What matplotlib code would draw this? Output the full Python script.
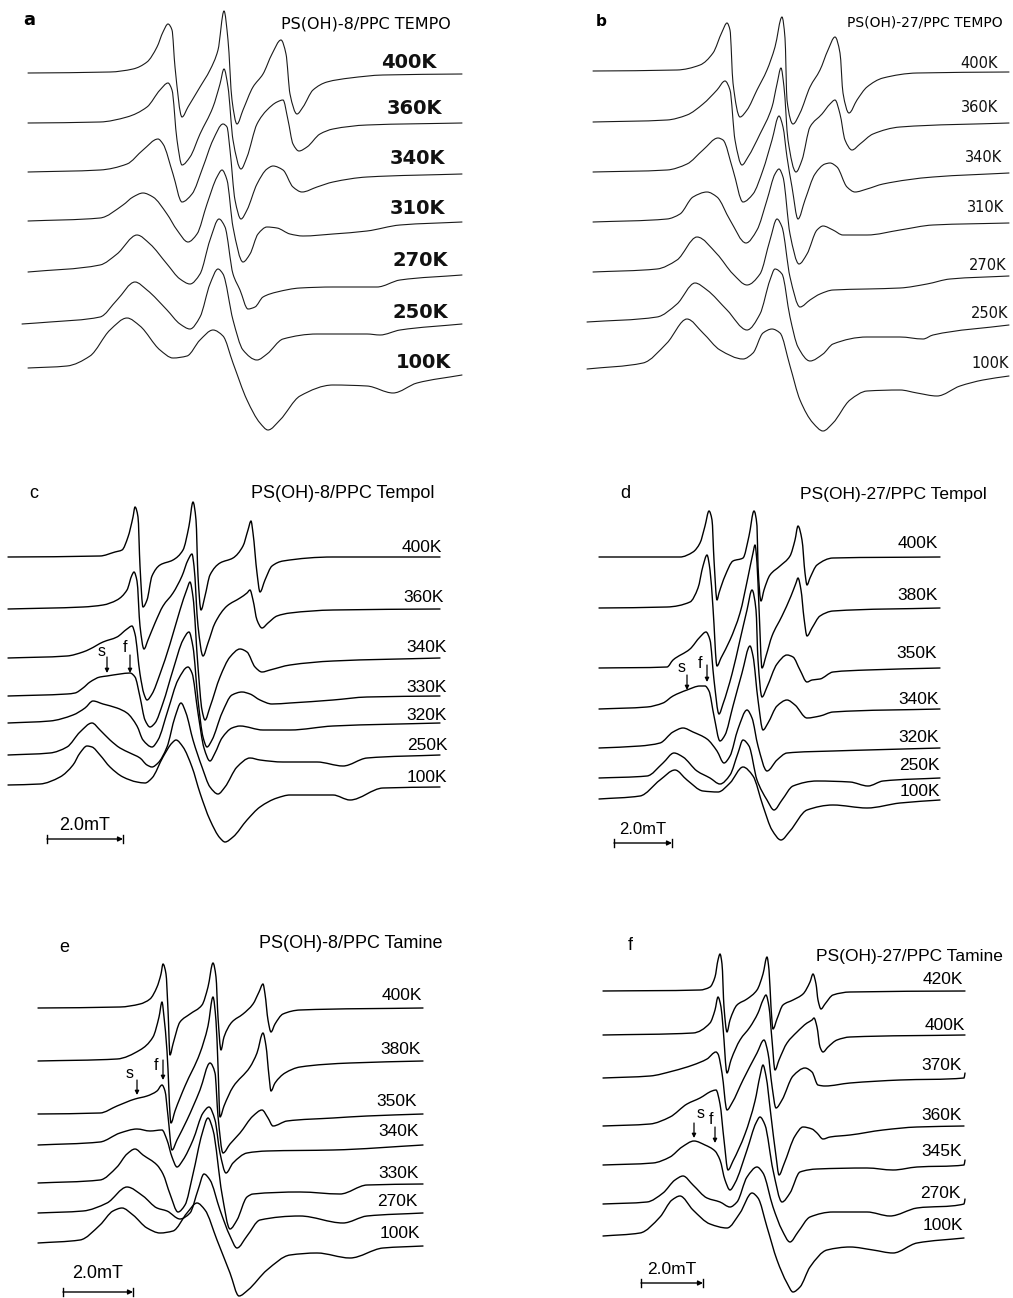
import matplotlib
matplotlib.use('Agg')
import matplotlib.pyplot as plt
from matplotlib.path import Path
from matplotlib.patches import PathPatch

# ESR spectra.
# Each trace: list of (field, signal) in arbitrary units, signal relative to trace baseline.

# ---- panel a : PS(OH)-8/PPC TEMPO ----
a_temps = ['400K', '360K', '340K', '310K', '270K', '250K', '100K']
a400 = [(28,0),(110,1),(133,4),(147,11),(157,26),(163,41),(168,49),(172,43),(175,6),(182,-44),(188,-34),(200,-14),(210,3),(218,23),(224,62),(228,33),(232,-27),(237,-51),(243,-37),(253,-14),(263,-1),(272,19),(281,33),(286,19),(290,-21),(297,-41),(303,-34),(313,-17),(327,-9),(350,-5),(383,-2),(462,-1)]
a360 = [(28,0),(100,1),(127,6),(147,16),(160,33),(168,40),(172,33),(177,-17),(182,-42),(190,-34),(200,-11),(213,16),(220,39),(224,54),(228,36),(233,-17),(241,-46),(247,-34),(257,-1),(267,13),(277,21),(283,23),(288,3),(293,-21),(299,-28),(307,-24),(320,-11),(333,-6),(367,-2),(462,0)]
a340 = [(28,0),(100,2),(127,8),(143,22),(158,33),(163,28),(173,-2),(182,-30),(192,-22),(203,5),(213,32),(223,48),(227,45),(230,22),(235,-28),(241,-47),(247,-38),(257,-12),(267,3),(273,6),(283,2),(293,-15),(302,-20),(317,-15),(333,-10),(367,-5),(462,-2)]
a310 = [(28,0),(100,3),(123,16),(133,24),(143,28),(153,24),(167,7),(177,-9),(188,-21),(197,-13),(207,17),(217,44),(222,51),(227,41),(233,-6),(243,-41),(250,-33),(258,-13),(267,-6),(277,-7),(290,-13),(303,-15),(333,-13),(367,-10),(400,-4),(462,-1)]
a270 = [(28,0),(100,7),(117,18),(137,37),(150,28),(167,8),(180,-7),(190,-12),(200,-2),(210,32),(219,53),(225,45),(233,-2),(240,-18),(248,-37),(255,-35),(263,-25),(277,-20),(300,-16),(333,-15),(377,-15),(400,-8),(462,-3)]
a250 = [(22,-2),(50,0),(100,5),(117,22),(135,40),(147,32),(167,12),(180,-2),(190,-7),(200,5),(210,38),(218,53),(223,48),(233,2),(243,-28),(257,-38),(267,-32),(283,-17),(317,-12),(367,-12),(380,-13),(400,-8),(462,-2)]
a100 = [(28,0),(67,2),(90,12),(110,38),(127,50),(140,42),(160,18),(173,10),(187,12),(200,28),(213,38),(223,32),(233,5),(247,-32),(260,-55),(268,-62),(280,-52),(300,-28),(333,-17),(367,-18),(393,-25),(417,-15),(462,-7)]

# ---- panel b : PS(OH)-27/PPC TEMPO ----
b_temps = ['400K', '360K', '340K', '310K', '270K', '250K', '100K']
b400 = [(593,0),(677,1),(700,6),(713,18),(722,39),(727,48),(730,41),(733,-12),(740,-46),(747,-39),(757,-19),(767,1),(775,24),(782,54),(785,33),(787,-29),(793,-53),(800,-42),(810,-16),(820,1),(828,21),(835,34),(840,18),(843,-22),(849,-42),(857,-29),(867,-16),(883,-7),(917,-2),(1009,-1)]
b360 = [(593,0),(667,2),(687,7),(703,18),(717,32),(725,41),(730,32),(735,-18),(742,-43),(748,-35),(760,-12),(772,15),(777,38),(781,54),(784,35),(788,-18),(796,-50),(802,-38),(810,-5),(822,8),(830,18),(835,22),(840,8),(845,-18),(852,-28),(860,-22),(873,-12),(900,-5),(1009,-1)]
b340 = [(593,0),(667,2),(687,8),(703,22),(718,34),(723,32),(733,2),(743,-30),(753,-22),(763,2),(772,32),(779,56),(783,45),(787,15),(792,-15),(798,-47),(805,-28),(815,-2),(825,8),(830,9),(837,5),(847,-15),(855,-20),(867,-17),(883,-12),(933,-5),(1009,-1)]
b310 = [(593,0),(667,3),(680,8),(693,25),(707,30),(717,25),(730,2),(746,-21),(757,-8),(767,22),(775,48),(779,53),(783,45),(790,-12),(799,-42),(807,-32),(817,-8),(823,-4),(833,-8),(843,-13),(867,-13),(900,-8),(933,-3),(1009,-1)]
b270 = [(593,0),(657,3),(677,12),(697,35),(717,18),(733,-2),(747,-13),(760,-2),(770,32),(777,53),(782,45),(790,-5),(800,-35),(810,-28),(820,-22),(833,-18),(867,-17),(900,-16),(927,-12),(950,-7),(1009,-4)]
b250 = [(587,0),(657,5),(677,18),(695,39),(707,32),(727,12),(747,-8),(760,8),(770,42),(775,53),(782,48),(790,5),(798,-25),(810,-39),(823,-32),(833,-22),(867,-15),(900,-15),(923,-17),(933,-13),(1009,-3)]
b100 = [(587,0),(643,6),(667,26),(687,50),(703,36),(720,19),(743,10),(753,16),(763,36),(772,40),(780,36),(790,3),(800,-31),(813,-54),(823,-62),(833,-54),(850,-31),(867,-22),(900,-21),(917,-24),(937,-27),(960,-17),(983,-11),(1009,-7)]

# ---- panel c : PS(OH)-8/PPC Tempol ----
c_temps = ['400K', '360K', '340K', '330K', '320K', '250K', '100K']
c400 = [(8,0),(100,1),(115,5),(122,7),(128,20),(133,40),(135,50),(138,40),(140,-9),(143,-50),(147,-43),(152,-19),(160,-8),(173,-3),(183,7),(189,31),(193,55),(196,37),(198,-19),(201,-53),(205,-39),(210,-18),(220,-6),(233,-1),(243,11),(248,27),(251,36),(253,24),(257,-16),(260,-35),(265,-23),(272,-9),(283,-4),(333,0),(440,0)]
c360 = [(8,0),(83,2),(103,4),(117,9),(127,19),(132,34),(134,37),(137,28),(140,-17),(144,-40),(148,-31),(155,-14),(163,3),(173,16),(182,33),(188,49),(192,55),(194,43),(198,-17),(203,-47),(208,-34),(215,-14),(227,3),(240,11),(247,16),(250,19),(253,9),(257,-11),(262,-19),(268,-14),(277,-7),(290,-4),(333,-1),(440,0)]
c340 = [(8,0),(67,2),(83,6),(90,9),(103,16),(117,21),(127,29),(132,32),(135,24),(140,-16),(144,-36),(147,-42),(152,-36),(160,-16),(170,14),(180,48),(187,69),(190,76),(193,61),(198,-9),(202,-52),(205,-62),(210,-49),(220,-19),(230,1),(240,9),(247,6),(255,-9),(262,-14),(270,-12),(290,-7),(333,-3),(440,0)]
c330 = [(8,0),(67,2),(75,3),(83,8),(90,14),(100,19),(107,20),(120,22),(130,23),(135,19),(140,-1),(145,-24),(150,-31),(155,-27),(163,-7),(173,26),(183,56),(189,64),(193,49),(198,-4),(203,-41),(207,-51),(212,-44),(222,-17),(232,1),(242,4),(250,2),(260,-4),(272,-8),(290,-7),(333,-4),(367,-1),(440,0)]
c320 = [(8,0),(50,2),(73,8),(85,15),(93,22),(103,19),(117,15),(127,10),(137,-3),(143,-17),(152,-24),(158,-17),(168,13),(178,43),(188,56),(192,50),(198,10),(204,-25),(210,-38),(215,-30),(222,-15),(232,-5),(240,-3),(263,-7),(290,-7),(333,-3),(440,0)]
c250 = [(8,0),(50,2),(67,8),(80,23),(92,32),(100,25),(110,15),(120,7),(130,2),(140,-3),(147,-10),(152,-12),(158,-8),(167,8),(175,38),(181,52),(186,42),(193,15),(202,-12),(210,-32),(218,-39),(225,-32),(237,-12),(250,-3),(260,-5),(283,-7),(317,-7),(343,-11),(367,-3),(440,0)]
c100 = [(8,0),(40,1),(60,8),(73,20),(80,32),(87,39),(92,38),(100,30),(110,18),(123,8),(137,3),(145,2),(152,7),(163,28),(172,42),(176,45),(183,38),(192,18),(200,-8),(210,-35),(220,-53),(225,-57),(233,-52),(247,-35),(260,-22),(277,-13),(290,-10),(333,-10),(350,-15),(383,-3),(440,-2)]

# ---- panel d : PS(OH)-27/PPC Tempol ----
d_temps = ['400K', '380K', '350K', '340K', '320K', '250K', '100K']
d400 = [(599,0),(680,0),(693,5),(700,14),(705,31),(709,46),(712,37),(714,-3),(717,-43),(719,-36),(725,-19),(733,-4),(743,-1),(749,21),(754,46),(757,31),(758,-9),(761,-44),(764,-33),(770,-18),(780,-9),(790,1),(795,17),(798,31),(802,17),(805,-16),(807,-28),(810,-21),(817,-8),(833,-1),(940,0)]
d380 = [(599,0),(667,1),(690,6),(698,20),(703,42),(707,53),(710,38),(713,0),(717,-58),(721,-50),(730,-32),(740,-5),(748,31),(753,55),(755,63),(757,45),(759,0),(762,-60),(766,-48),(772,-28),(782,-8),(791,12),(796,25),(798,30),(801,18),(804,-10),(807,-28),(812,-20),(820,-8),(833,-3),(940,0)]
d350 = [(599,0),(667,1),(673,8),(690,19),(700,31),(706,36),(710,28),(714,-12),(719,-46),(723,-36),(732,-6),(740,28),(747,58),(752,78),(756,58),(758,8),(762,-29),(767,-19),(777,4),(787,13),(793,11),(800,-2),(807,-14),(812,-12),(820,-11),(833,-4),(867,-2),(940,0)]
d340 = [(599,0),(647,2),(663,6),(673,13),(687,19),(700,23),(705,23),(709,18),(714,-7),(720,-32),(725,-26),(733,3),(742,36),(750,63),(753,53),(758,9),(763,-21),(768,-14),(777,3),(787,9),(795,4),(807,-9),(820,-7),(833,-3),(940,0)]
d320 = [(599,0),(640,2),(660,5),(673,16),(683,20),(693,16),(707,9),(717,-3),(724,-15),(730,-8),(738,19),(747,38),(752,30),(758,2),(767,-23),(777,-12),(787,-5),(833,-3),(867,-2),(940,0)]
d250 = [(599,0),(647,2),(663,15),(674,25),(683,21),(697,7),(710,0),(720,-6),(730,3),(738,25),(743,38),(749,32),(757,-2),(767,-22),(774,-32),(782,-22),(793,-8),(817,-3),(850,-4),(868,-8),(883,-3),(940,0)]
d100 = [(599,0),(640,3),(660,19),(675,29),(687,19),(703,8),(718,7),(730,16),(743,32),(753,23),(763,-7),(772,-31),(781,-41),(790,-32),(807,-11),(833,-6),(867,-9),(900,-4),(940,-1)]

# ---- panel e : PS(OH)-8/PPC Tamine ----
e_temps = ['400K', '380K', '350K', '340K', '330K', '270K', '100K']
e400 = [(38,0),(120,1),(140,4),(150,9),(157,21),(161,34),(163,44),(166,34),(168,-2),(170,-47),(173,-36),(180,-14),(190,-6),(202,3),(208,21),(213,45),(216,31),(218,-9),(221,-42),(224,-29),(232,-14),(243,-6),(253,4),(259,16),(263,24),(265,14),(268,-12),(271,-24),(275,-16),(283,-6),(300,-2),(423,0)]
e380 = [(38,0),(117,2),(140,11),(153,24),(159,44),(162,59),(164,44),(167,10),(171,-62),(175,-50),(185,-25),(200,8),(208,35),(213,64),(216,40),(218,-5),(220,-56),(224,-45),(233,-26),(250,-6),(257,8),(263,28),(266,15),(269,-15),(271,-30),(275,-22),(285,-12),(300,-6),(350,-2),(423,0)]
e350 = [(38,0),(100,1),(117,8),(135,15),(147,18),(157,23),(162,29),(165,23),(168,-2),(172,-36),(177,-26),(187,-6),(200,24),(210,51),(215,41),(218,-2),(223,-39),(230,-30),(240,-19),(253,-2),(262,4),(268,-4),(273,-12),(287,-7),(333,-4),(367,-2),(423,0)]
e340 = [(38,0),(100,3),(120,12),(137,16),(150,14),(162,15),(167,5),(172,-12),(177,-22),(183,-15),(193,5),(203,32),(209,38),(215,25),(220,-8),(226,-28),(233,-18),(247,-8),(267,-6),(333,-5),(423,0)]
e330 = [(38,0),(100,3),(117,16),(127,29),(135,34),(143,28),(157,18),(163,9),(170,-11),(178,-29),(185,-22),(193,9),(202,49),(208,65),(213,53),(222,-11),(230,-46),(237,-37),(247,-14),(253,-11),(300,-9),(340,-11),(367,-2),(423,-1)]
e270 = [(38,0),(83,2),(107,10),(127,26),(143,17),(157,5),(167,2),(180,-6),(190,0),(198,23),(204,39),(210,33),(220,3),(230,-23),(237,-35),(247,-23),(260,-7),(300,-3),(343,-10),(367,-3),(423,0)]
e100 = [(38,0),(80,3),(100,18),(113,32),(122,35),(133,28),(147,15),(160,10),(173,12),(187,30),(197,40),(205,33),(217,3),(230,-30),(239,-53),(248,-47),(267,-27),(290,-12),(317,-10),(350,-15),(383,-5),(423,-3)]

# ---- panel f : PS(OH)-27/PPC Tamine ----
f_temps = ['420K', '400K', '370K', '360K', '345K', '270K', '100K']
f420 = [(603,0),(700,1),(710,4),(715,14),(718,31),(720,37),(722,27),(724,-16),(727,-41),(730,-29),(737,-14),(747,-8),(757,1),(763,17),(767,34),(769,21),(771,-16),(773,-38),(777,-28),(783,-14),(793,-9),(803,-3),(810,9),(813,17),(816,7),(818,-9),(821,-18),(825,-13),(833,-4),(850,-1),(965,0)]
f400 = [(603,0),(693,2),(710,12),(715,25),(718,38),(721,28),(723,8),(727,-38),(731,-25),(740,-5),(750,8),(758,22),(763,35),(766,40),(769,28),(772,-5),(775,-35),(779,-25),(787,-8),(797,3),(807,12),(812,15),(814,17),(817,8),(820,-12),(823,-17),(828,-12),(837,-5),(850,-2),(965,0)]
f370 = [(603,0),(650,2),(673,7),(693,13),(707,19),(716,26),(718,24),(722,5),(727,-32),(732,-25),(743,-2),(757,25),(764,38),(768,25),(772,-8),(776,-30),(782,-22),(793,2),(805,10),(812,6),(818,-7),(825,-8),(850,-5),(900,-2),(964,0),(965,5)]
f360 = [(603,0),(650,2),(670,9),(687,22),(700,28),(712,35),(716,36),(720,22),(724,-14),(728,-44),(733,-35),(745,-8),(755,25),(760,50),(763,61),(766,50),(771,10),(776,-30),(779,-49),(784,-38),(795,-10),(803,-1),(812,-3),(817,-7),(823,-13),(830,-11),(850,-9),(883,-4),(917,-1),(964,0)]
f345 = [(603,0),(653,2),(670,8),(682,18),(694,24),(705,20),(715,14),(720,5),(725,-15),(730,-25),(735,-18),(747,15),(756,42),(760,48),(765,40),(773,-5),(782,-37),(790,-28),(800,-7),(817,-4),(867,-3),(893,-5),(917,-2),(964,0),(965,5)]
f270 = [(603,0),(647,2),(663,11),(675,24),(683,28),(693,19),(707,6),(720,2),(730,-3),(737,2),(747,27),(757,37),(763,31),(773,-3),(782,-26),(790,-38),(798,-28),(810,-13),(833,-8),(867,-8),(890,-12),(917,-4),(964,0),(965,5)]
f100 = [(603,0),(640,3),(660,19),(672,36),(680,40),(693,26),(710,12),(727,8),(740,23),(752,43),(758,38),(767,9),(777,-24),(787,-47),(793,-56),(800,-51),(810,-31),(827,-14),(850,-11),(873,-14),(893,-17),(917,-7),(964,-2)]


def smooth_path(xs, ys):
    # monotone cubic (Fritsch-Carlson) Bezier through the read points,
    # so curves are drawn smooth without overshooting the readings
    n = len(xs)
    h = [xs[k + 1] - xs[k] for k in range(n - 1)]
    d = [(ys[k + 1] - ys[k]) / h[k] for k in range(n - 1)]
    m = [0.0] * n
    m[0], m[-1] = d[0], d[-1]
    for k in range(1, n - 1):
        if d[k - 1] * d[k] <= 0:
            m[k] = 0.0
        else:
            w1 = 2 * h[k] + h[k - 1]
            w2 = h[k] + 2 * h[k - 1]
            m[k] = (w1 + w2) / (w1 / d[k - 1] + w2 / d[k])
    verts = [(xs[0], ys[0])]
    codes = [Path.MOVETO]
    for k in range(n - 1):
        verts += [(xs[k] + h[k] / 3, ys[k] + m[k] * h[k] / 3),
                  (xs[k + 1] - h[k] / 3, ys[k + 1] - m[k + 1] * h[k] / 3),
                  (xs[k + 1], ys[k + 1])]
        codes += [Path.CURVE4] * 3
    return Path(verts, codes)


fig = plt.figure(figsize=(10.13, 12.98), dpi=100)
ax = fig.add_axes([0, 0, 1, 1])
ax.set_xlim(0, 1013)
ax.set_ylim(1298, 0)
ax.axis('off')

sans = ['Liberation Sans', 'DejaVu Sans']

panels = [
    # traces, baselines, labels, label centres, line colour, width
    ([a400, a360, a340, a310, a270, a250, a100], [73, 123, 172, 221, 272, 322, 368], a_temps,
     [(409, 63), (414, 109), (417, 159), (417, 209), (420, 260), (420, 312), (423, 363)], '#1a1a1a', 0.8),
    ([b400, b360, b340, b310, b270, b250, b100], [71, 122, 172, 222, 272, 322, 369], b_temps,
     [(979, 63), (980, 108), (984, 157), (986, 207), (988, 265), (990, 313), (990, 363)], '#1a1a1a', 0.8),
    ([c400, c360, c340, c330, c320, c250, c100], [557, 609, 658, 696, 723, 755, 785], c_temps,
     [(422, 547), (424, 598), (427, 647), (427, 687), (427, 715), (427, 745), (427, 777)], 'black', 1.0),
    ([d400, d380, d350, d340, d320, d250, d100], [557, 608, 668, 709, 748, 778, 799], d_temps,
     [(918, 543), (918, 596), (917, 654), (919, 699), (919, 738), (919, 766), (920, 791)], 'black', 1.0),
    ([e400, e380, e350, e340, e330, e270, e100], [1008, 1061, 1114, 1145, 1183, 1213, 1243], e_temps,
     [(402, 995), (401, 1049), (397, 1102), (399, 1132), (399, 1173), (397, 1202), (400, 1234)], 'black', 1.0),
    ([f420, f400, f370, f360, f345, f270, f100], [991, 1035, 1078, 1126, 1165, 1204, 1236], f_temps,
     [(943, 979), (945, 1025), (942, 1066), (942, 1115), (942, 1152), (940, 1193), (943, 1225)], 'black', 1.0),
]

for i, (traces, bases, temps, lab_pos, col, lw) in enumerate(panels):
    for pts, base, t, (lx, ly) in zip(traces, bases, temps, lab_pos):
        xs = [p[0] for p in pts]
        ys = [base - p[1] for p in pts]
        ax.add_patch(PathPatch(smooth_path(xs, ys), fill=False, edgecolor=col, lw=lw,
                               joinstyle='round', capstyle='round'))
        if i == 0:
            ax.text(lx, ly, t, ha='center', va='center', fontsize=14, fontweight='bold',
                    family='DejaVu Sans', color='#111111')
        elif i == 1:
            ax.text(lx, ly, t, ha='center', va='center', fontsize=10.5, family='DejaVu Sans',
                    color='#111111')
        else:
            ax.text(lx, ly, t, ha='center', va='center', fontsize=12.5, family=sans)

# panel letters and titles
ax.text(29, 20, 'a', ha='center', va='center', fontsize=13, fontweight='bold', family='DejaVu Sans')
ax.text(366, 24, 'PS(OH)-8/PPC TEMPO', ha='center', va='center', fontsize=11.5, family='DejaVu Sans')
ax.text(601, 22, 'b', ha='center', va='center', fontsize=11, fontweight='bold', family='DejaVu Sans')
ax.text(925, 23, 'PS(OH)-27/PPC TEMPO', ha='center', va='center', fontsize=10, family='DejaVu Sans')
ax.text(34, 494, 'c', ha='center', va='center', fontsize=13, family=sans)
ax.text(343, 494, 'PS(OH)-8/PPC Tempol', ha='center', va='center', fontsize=13, family=sans)
ax.text(625, 493, 'd', ha='center', va='center', fontsize=13, family=sans)
ax.text(893, 494, 'PS(OH)-27/PPC Tempol', ha='center', va='center', fontsize=12.5, family=sans)
ax.text(64, 947, 'e', ha='center', va='center', fontsize=13, family=sans)
ax.text(351, 943, 'PS(OH)-8/PPC Tamine', ha='center', va='center', fontsize=13, family=sans)
ax.text(630, 945, 'f', ha='center', va='center', fontsize=13, family=sans)
ax.text(909, 957, 'PS(OH)-27/PPC Tamine', ha='center', va='center', fontsize=12.5, family=sans)

# 2.0 mT scale bars
for x0, x1, y, ty, fs in [(47, 123, 839, 825, 13), (614, 672, 843, 829, 12),
                          (63, 133, 1292, 1273, 13), (641, 703, 1283, 1269, 12.5)]:
    ax.annotate('', xy=(x1, y), xytext=(x0, y),
                arrowprops=dict(arrowstyle='-|>', color='black', lw=1.0, mutation_scale=7,
                                shrinkA=0, shrinkB=0))
    ax.plot([x0, x0], [y - 4, y + 4], color='black', lw=1.0)
    ax.plot([x1, x1], [y - 4, y + 4], color='black', lw=1.0)
    ax.text((x0 + x1) / 2, ty, '2.0mT', ha='center', va='center', fontsize=fs, family=sans)

# s / f markers (slow and fast components)
for lab, tx, ty, x, y0, y1 in [('s', 102, 652, 107, 657, 673), ('f', 125, 648, 130, 655, 673),
                               ('s', 682, 667, 687, 675, 690), ('f', 700, 663, 707, 665, 682),
                               ('s', 130, 1073, 137, 1080, 1095), ('f', 156, 1065, 163, 1060, 1080),
                               ('s', 701, 1113, 694, 1123, 1138), ('f', 711, 1120, 715, 1127, 1143)]:
    ax.annotate('', xy=(x, y1), xytext=(x, y0),
                arrowprops=dict(arrowstyle='-|>', color='black', lw=0.9, mutation_scale=6,
                                shrinkA=0, shrinkB=0))
    ax.text(tx, ty, lab, ha='center', va='center', fontsize=11.5, family=sans)

fig.savefig('out.png', dpi=100, facecolor='white')
